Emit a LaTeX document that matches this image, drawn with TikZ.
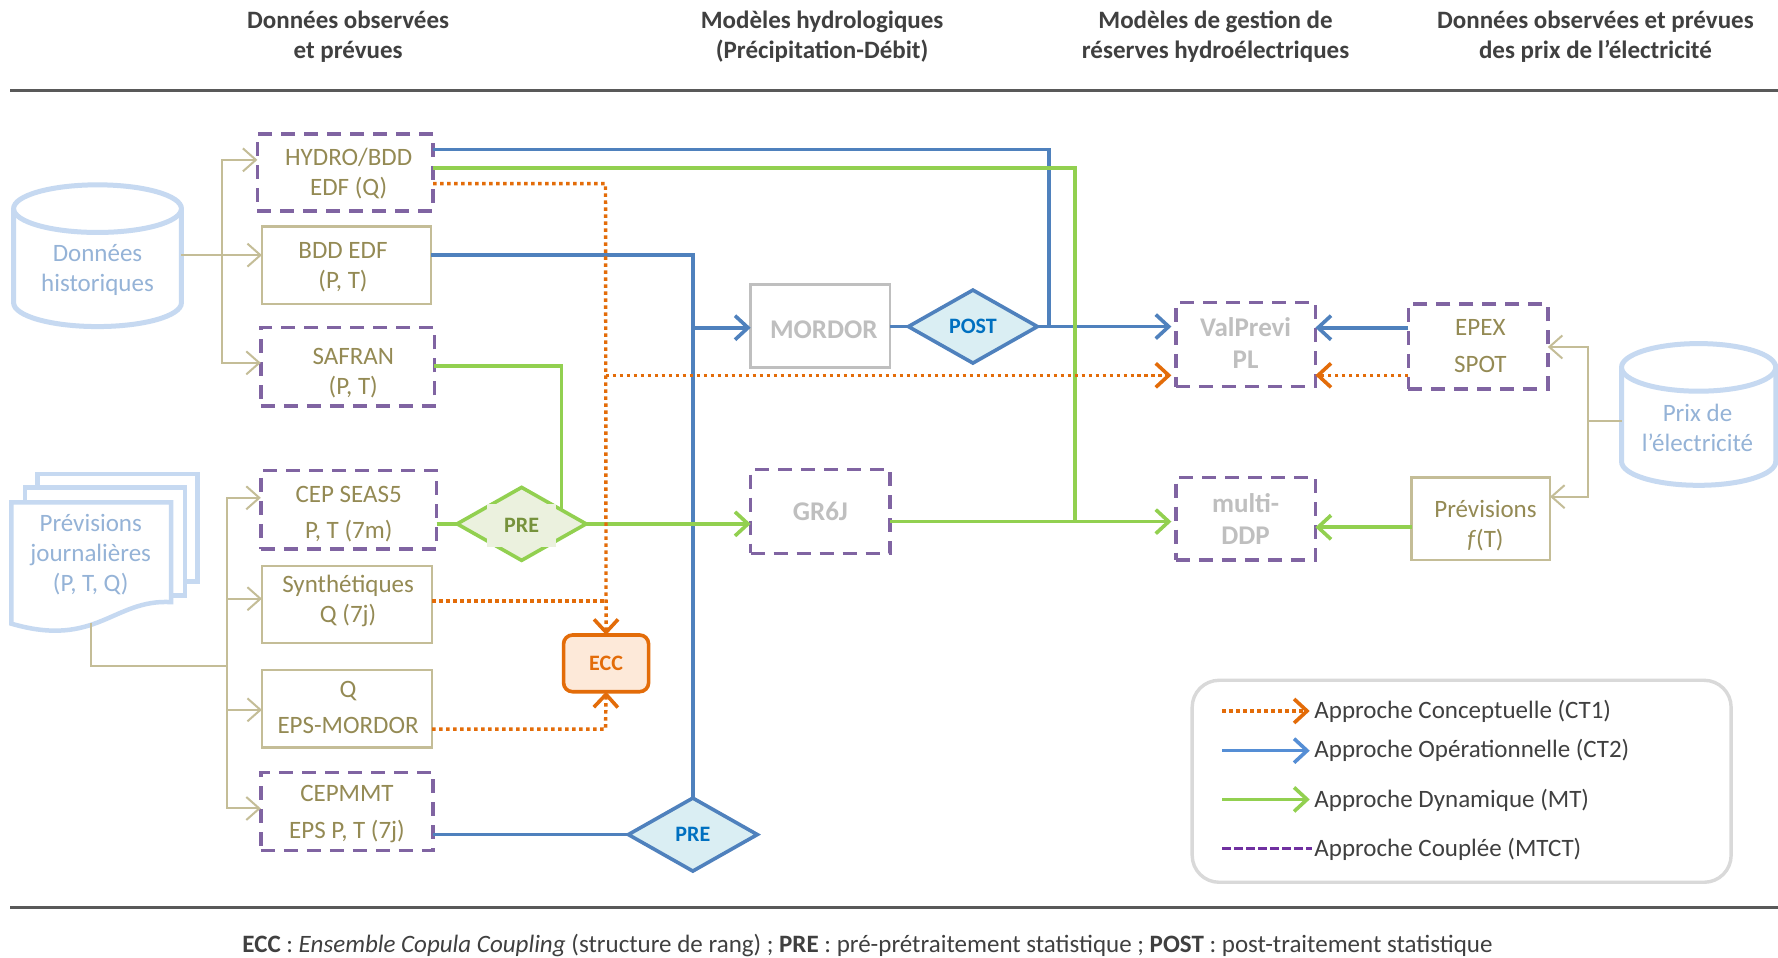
\documentclass[tikz,border=0pt]{standalone}
\usepackage{fontspec}
\setmainfont{Carlito}
\usetikzlibrary{shapes.geometric,arrows.meta,calc}
\definecolor{tanl}{HTML}{C4BD97}
\definecolor{tant}{HTML}{948A54}
\definecolor{purp}{HTML}{8064A2}
\definecolor{purd}{HTML}{7030A0}
\definecolor{bluel}{HTML}{4F81BD}
\definecolor{blueb}{HTML}{558ED5}
\definecolor{bluet}{HTML}{0070C0}
\definecolor{bluef}{HTML}{DAEEF3}
\definecolor{grn}{HTML}{92D050}
\definecolor{grnf}{HTML}{EBF1DE}
\definecolor{grnt}{HTML}{76923C}
\definecolor{org}{HTML}{E36C09}
\definecolor{orgf}{HTML}{FDE9D9}
\definecolor{cyll}{HTML}{C6D9F1}
\definecolor{cylt}{HTML}{95B3D7}
\definecolor{gryt}{HTML}{BFBFBF}
\definecolor{legl}{HTML}{D9D9D9}
\definecolor{rulec}{HTML}{595959}
\definecolor{txtd}{HTML}{404040}
\newdimen\uu \uu=1.134pt
% text block placed at an offset (in picture units) from the centre of its node
\newcommand\tx[4]{\raisebox{\dimexpr-#2\uu-8pt\relax}[0pt][0pt]{\makebox[0pt]{\hspace*{\dimexpr 2\uu*\numexpr#1\relax\relax}\fontsize{25}{#3}\selectfont\begin{tabular}{@{}c@{}}#4\end{tabular}}}}
\newcommand\txg[4]{\raisebox{\dimexpr-#2\uu-8pt\relax}[0pt][0pt]{\makebox[0pt]{\hspace*{\dimexpr 2\uu*\numexpr#1\relax\relax}\fontsize{27}{#3}\selectfont\bfseries\begin{tabular}{@{}c@{}}#4\end{tabular}}}}
\newcommand\bx[7]{\node[#2,minimum width={(#5-#3)*1.134pt},minimum height={(#6-#4)*1.134pt}] (#1) at ({(#3+#5)/2},{(#4+#6)/2}) {#7};}
\tikzset{
 basebox/.style={rectangle,inner sep=0pt,outer sep=0pt,text=tant},
 dashbox/.style={basebox,draw=purp,line width=3.4pt,dash pattern=on 14pt off 9pt},
 tanbox/.style={basebox,draw=tanl,line width=2.6pt},
 graybox/.style={basebox,draw=gryt,line width=2.6pt,text=gryt},
 dashgray/.style={dashbox,text=gryt},
 diam/.style={diamond,inner sep=0pt,outer sep=0pt,line width=3.6pt,minimum width=129pt,minimum height=73pt},
 bluediam/.style={diam,draw=bluel,fill=bluef,text=bluet,font=\fontsize{22}{24}\selectfont\bfseries},
 greendiam/.style={diam,draw=grn,fill=grnf},
 cylshape/.style={draw=cyll,line width=5pt,fill=white},
 tip/.style={-{Straight Barb[length=13pt,width=24pt,line width=3.6pt]}},
 tanline/.style={draw=tanl,line width=2pt},
 tanarrow/.style={tanline,-{Straight Barb[length=13pt,width=23pt,line width=2pt]}},
 blueline/.style={draw=bluel,line width=3.6pt},
 bluearrow/.style={blueline,tip},
 greenline/.style={draw=grn,line width=3.6pt},
 greenarrow/.style={greenline,tip},
 orangeline/.style={draw=org,line width=3.4pt,dash pattern=on 3.5pt off 3.5pt},
 orangearrow/.style={orangeline,-{Straight Barb[length=13pt,width=24pt,line width=3.6pt,sep=0pt]}},
 gap/.style={shorten >=4.5pt},
 headtext/.style={align=center,inner sep=0pt,font=\fontsize{25}{30}\selectfont\bfseries,text=txtd},
 legtext/.style={anchor=west,inner sep=0pt,font=\fontsize{25}{28}\selectfont,text=txtd},
 cyltext/.style={inner sep=0pt,text=cylt,align=center,font=\fontsize{25}{30}\selectfont},
}
\begin{document}
\begin{tikzpicture}[x=1.134pt,y=-1.134pt]
\useasboundingbox[fill=white] (0,0) rectangle (1568,844);

% headers
\node[headtext] (h1) at (307,32.5) {Données observées\\et prévues};
\node[headtext] (h2) at (725,32.5) {Modèles hydrologiques\\(Précipitation-Débit)};
\node[headtext] (h3) at (1072,32.5) {Modèles de gestion de\\réserves hydroélectriques};
\node[headtext] (h4) at (1407,32.5) {Données observées et prévues\\des prix de l’électricité};
\coordinate (r1a) at (9,79.5); \coordinate (r1b) at (1568,79.5);
\coordinate (r2a) at (9,800); \coordinate (r2b) at (1568,800);
\draw[rulec,line width=3pt] (r1a) -- (r1b);
\draw[rulec,line width=3pt] (r2a) -- (r2b);

% cylinders
\draw[cylshape] (12,184) -- (12,267) arc[start angle=180,end angle=360,x radius=74\uu,y radius=21\uu] -- (160,184);
\draw[cylshape] (86,184) ellipse[x radius=74\uu,y radius=21\uu];
\node[cyltext] (hist) at (86,238) {Données\\historiques};
\draw[cylshape] (1430,324) -- (1430,407) arc[start angle=180,end angle=360,x radius=68\uu,y radius=21\uu] -- (1566,324);
\draw[cylshape] (1498,324) ellipse[x radius=68\uu,y radius=21\uu];
\node[cyltext] (prix) at (1497,377) {Prix de\\l’électricité};

% stacked sheets
\draw[cylshape,line width=4.5pt] (33,418) rectangle (174,513);
\draw[cylshape,line width=4.5pt] (22,430) rectangle (163,525);
\draw[cylshape,line width=4.5pt] (10,443) -- (151,443) -- (151,531) .. controls (100,528) and (85,572) .. (10,550) -- cycle;
\node[cyltext] (prev) at (80,489) {Prévisions\\journalières\\(P, T, Q)};

% boxes
\bx{hydro}{dashbox}{227}{118}{382}{186}{\tx{3}{0}{30}{HYDRO/BDD\\EDF (Q)}}
\bx{bddedf}{tanbox}{231}{200}{380}{268}{\tx{-3}{0}{30}{BDD EDF\\(P, T)}}
\bx{safran}{dashbox}{230}{289}{383}{358}{\tx{5}{4}{30}{SAFRAN\\(P, T)}}
\bx{seas}{dashbox}{230}{415}{385}{484}{\tx{0}{2}{36}{CEP SEAS5\\P, T (7m)}}
\bx{synth}{tanbox}{231}{499}{381}{567}{\tx{1}{-4}{30}{Synthétiques\\Q (7j)}}
\bx{qeps}{tanbox}{231}{591}{381}{659}{\tx{1}{-2}{36}{Q\\EPS-MORDOR}}
\bx{cepmmt}{dashbox}{230}{681}{382}{750}{\tx{0}{-0.5}{37}{CEPMMT\\EPS P, T (7j)}}
\bx{mordor}{graybox}{662}{251}{785}{324}{\txg{3}{4}{30}{MORDOR}}
\bx{grsix}{dashgray}{662}{414}{785}{488}{\txg{0}{1}{30}{GR6J}}
\bx{valprevi}{dashgray}{1037}{267}{1160}{341}{\txg{0}{0}{32}{ValPrevi\\PL}}
\bx{multi}{dashgray}{1037}{421}{1160}{494}{\txg{0}{1}{32}{multi-\\DDP}}
\bx{epex}{dashbox}{1242}{268}{1365}{343}{\tx{2}{-1}{37}{EPEX\\SPOT}}
\bx{fprev}{tanbox}{1245}{421}{1367}{494}{\tx{4}{5}{30}{Prévisions\\\textit{f}(T)}}
\bx{ecc}{basebox,draw=org,fill=orgf,line width=3.6pt,rounded corners=9pt,text=org,font=\fontsize{22}{24}\selectfont\bfseries}{497}{560}{572}{610}{ECC}

% diamonds
\node[bluediam] (post) at (858,288) {POST};
\node[bluediam] (preb) at (611,736) {PRE};
\node[greendiam] (preg) at (460,462) {};
\node[rectangle,fill=grnf,inner sep=0pt,minimum width=69pt,minimum height=43pt,text=grnt,font=\fontsize{22}{24}\selectfont\bfseries] (pregt) at (460,463) {PRE};

% bends
\coordinate (b1) at (925,132); \coordinate (b2) at (611,225); \coordinate (b3) at (948,148);
\coordinate (b4) at (495,323); \coordinate (b5) at (534,162); \coordinate (b6) at (534,331);
\coordinate (b7) at (534,530); \coordinate (b8) at (534,643); \coordinate (b9) at (611,289);
\coordinate (b10) at (948,460); \coordinate (b11) at (925,288); \coordinate (b12) at (495,449);
\coordinate (b13) at (1200,465); \coordinate (b14) at (1200,289); \coordinate (b15) at (1200,331);

% tan connectors
\coordinate (t1) at (196,225); \coordinate (t2) at (196,141); \coordinate (t3) at (196,320);
\draw[tanarrow] (160,225) -- (bddedf.west |- t1);
\draw[tanarrow] (t1) -- (t2) -- (hydro.west |- t2);
\draw[tanarrow] (t1) -- (t3) -- (safran.west |- t3);
\coordinate (t4) at (200,587); \coordinate (t5) at (200,439); \coordinate (t6) at (200,528);
\coordinate (t7) at (200,626); \coordinate (t8) at (200,713); \coordinate (t9) at (80,587); \coordinate (t9a) at (80,549);
\draw[tanline] (t9a) -- (t9) -- (t4);
\draw[tanarrow] (t4) -- (t5) -- (seas.west |- t5);
\draw[tanarrow] (t6) -- (synth.west |- t6);
\draw[tanarrow] (t7) -- (qeps.west |- t7);
\draw[tanarrow] (t4) -- (t8) -- (cepmmt.west |- t8);
\coordinate (t10) at (1400,371); \coordinate (t11) at (1400,306); \coordinate (t12) at (1400,438); \coordinate (t10a) at (1430,371);
\draw[tanline] (t10a) -- (t10);
\draw[tanarrow] (t10) -- (t11) -- (epex.east |- t11);
\draw[tanarrow] (t10) -- (t12) -- (fprev.east |- t12);

% blue connectors
\draw[blueline] (hydro.east |- b1) -- (b1) -- (b11);
\draw[blueline] (bddedf.east |- b2) -- (b2) -- (preb.north);
\draw[bluearrow] (b9) -- (mordor.west |- b9);
\draw[blueline] (cepmmt.east |- preb) -- (preb.west);
\draw[blueline] (mordor.east |- post) -- (post.west);
\draw[bluearrow,gap] (post.east) -- (valprevi.west |- post);
\draw[bluearrow] (epex.west |- b14) -- (valprevi.east |- b14);

% green connectors
\draw[greenline] (hydro.east |- b3) -- (b3) -- (b10);
\draw[greenline] (safran.east |- b4) -- (b4) -- (b12);
\draw[greenline] (seas.east |- preg) -- (preg.west);
\draw[greenarrow] (preg.east) -- (grsix.west |- preg);
\draw[greenarrow,gap] (grsix.east |- b10) -- (multi.west |- b10);
\draw[greenarrow] (fprev.west |- b13) -- (multi.east |- b13);

% orange connectors
\draw[orangearrow] (hydro.east |- b5) -- (b5) -- (ecc.north);
\draw[orangearrow,gap] (b6) -- (valprevi.west |- b6);
\draw[orangearrow] (epex.west |- b15) -- (valprevi.east |- b15);
\draw[orangeline] (synth.east |- b7) -- (b7);
\draw[orangearrow] (qeps.east |- b8) -- (b8) -- (ecc.south);

% legend
\node[rectangle,draw=legl,line width=3.4pt,rounded corners=27pt,fill=none,inner sep=0pt,minimum width=539pt,minimum height=202pt] (legend) at (1289,689) {};
\node[legtext] (l1) at (1159,627) {Approche Conceptuelle (CT1)};
\node[legtext] (l2) at (1159,662) {Approche Opérationnelle (CT2)};
\node[legtext] (l3) at (1159,706) {Approche Dynamique (MT)};
\node[legtext] (l4) at (1159,749) {Approche Couplée (MTCT)};
\coordinate (la) at (1078,627); \coordinate (lb) at (1078,662); \coordinate (lc) at (1078,705); \coordinate (ld) at (1078,748);
\draw[orangearrow,gap] (la) -- (l1.west |- la);
\draw[blueline,draw=blueb,gap,-{Straight Barb[length=13pt,width=24pt,line width=3.6pt]}] (lb) -- (l2.west |- lb);
\draw[greenarrow,gap] (lc) -- (l3.west |- lc);
\draw[draw=purd,line width=3.2pt,dash pattern=on 9pt off 3pt,shorten >=2pt] (ld) -- (l4.west |- ld);

% footer
\node[inner sep=0pt,text=txtd,font=\fontsize{25}{28}\selectfont] (foot) at (765,834) {\textbf{ECC} : \textit{Ensemble Copula Coupling} (structure de rang) ; \textbf{PRE} : pré-prétraitement statistique ; \textbf{POST} : post-traitement statistique};
\end{tikzpicture}
\end{document}
